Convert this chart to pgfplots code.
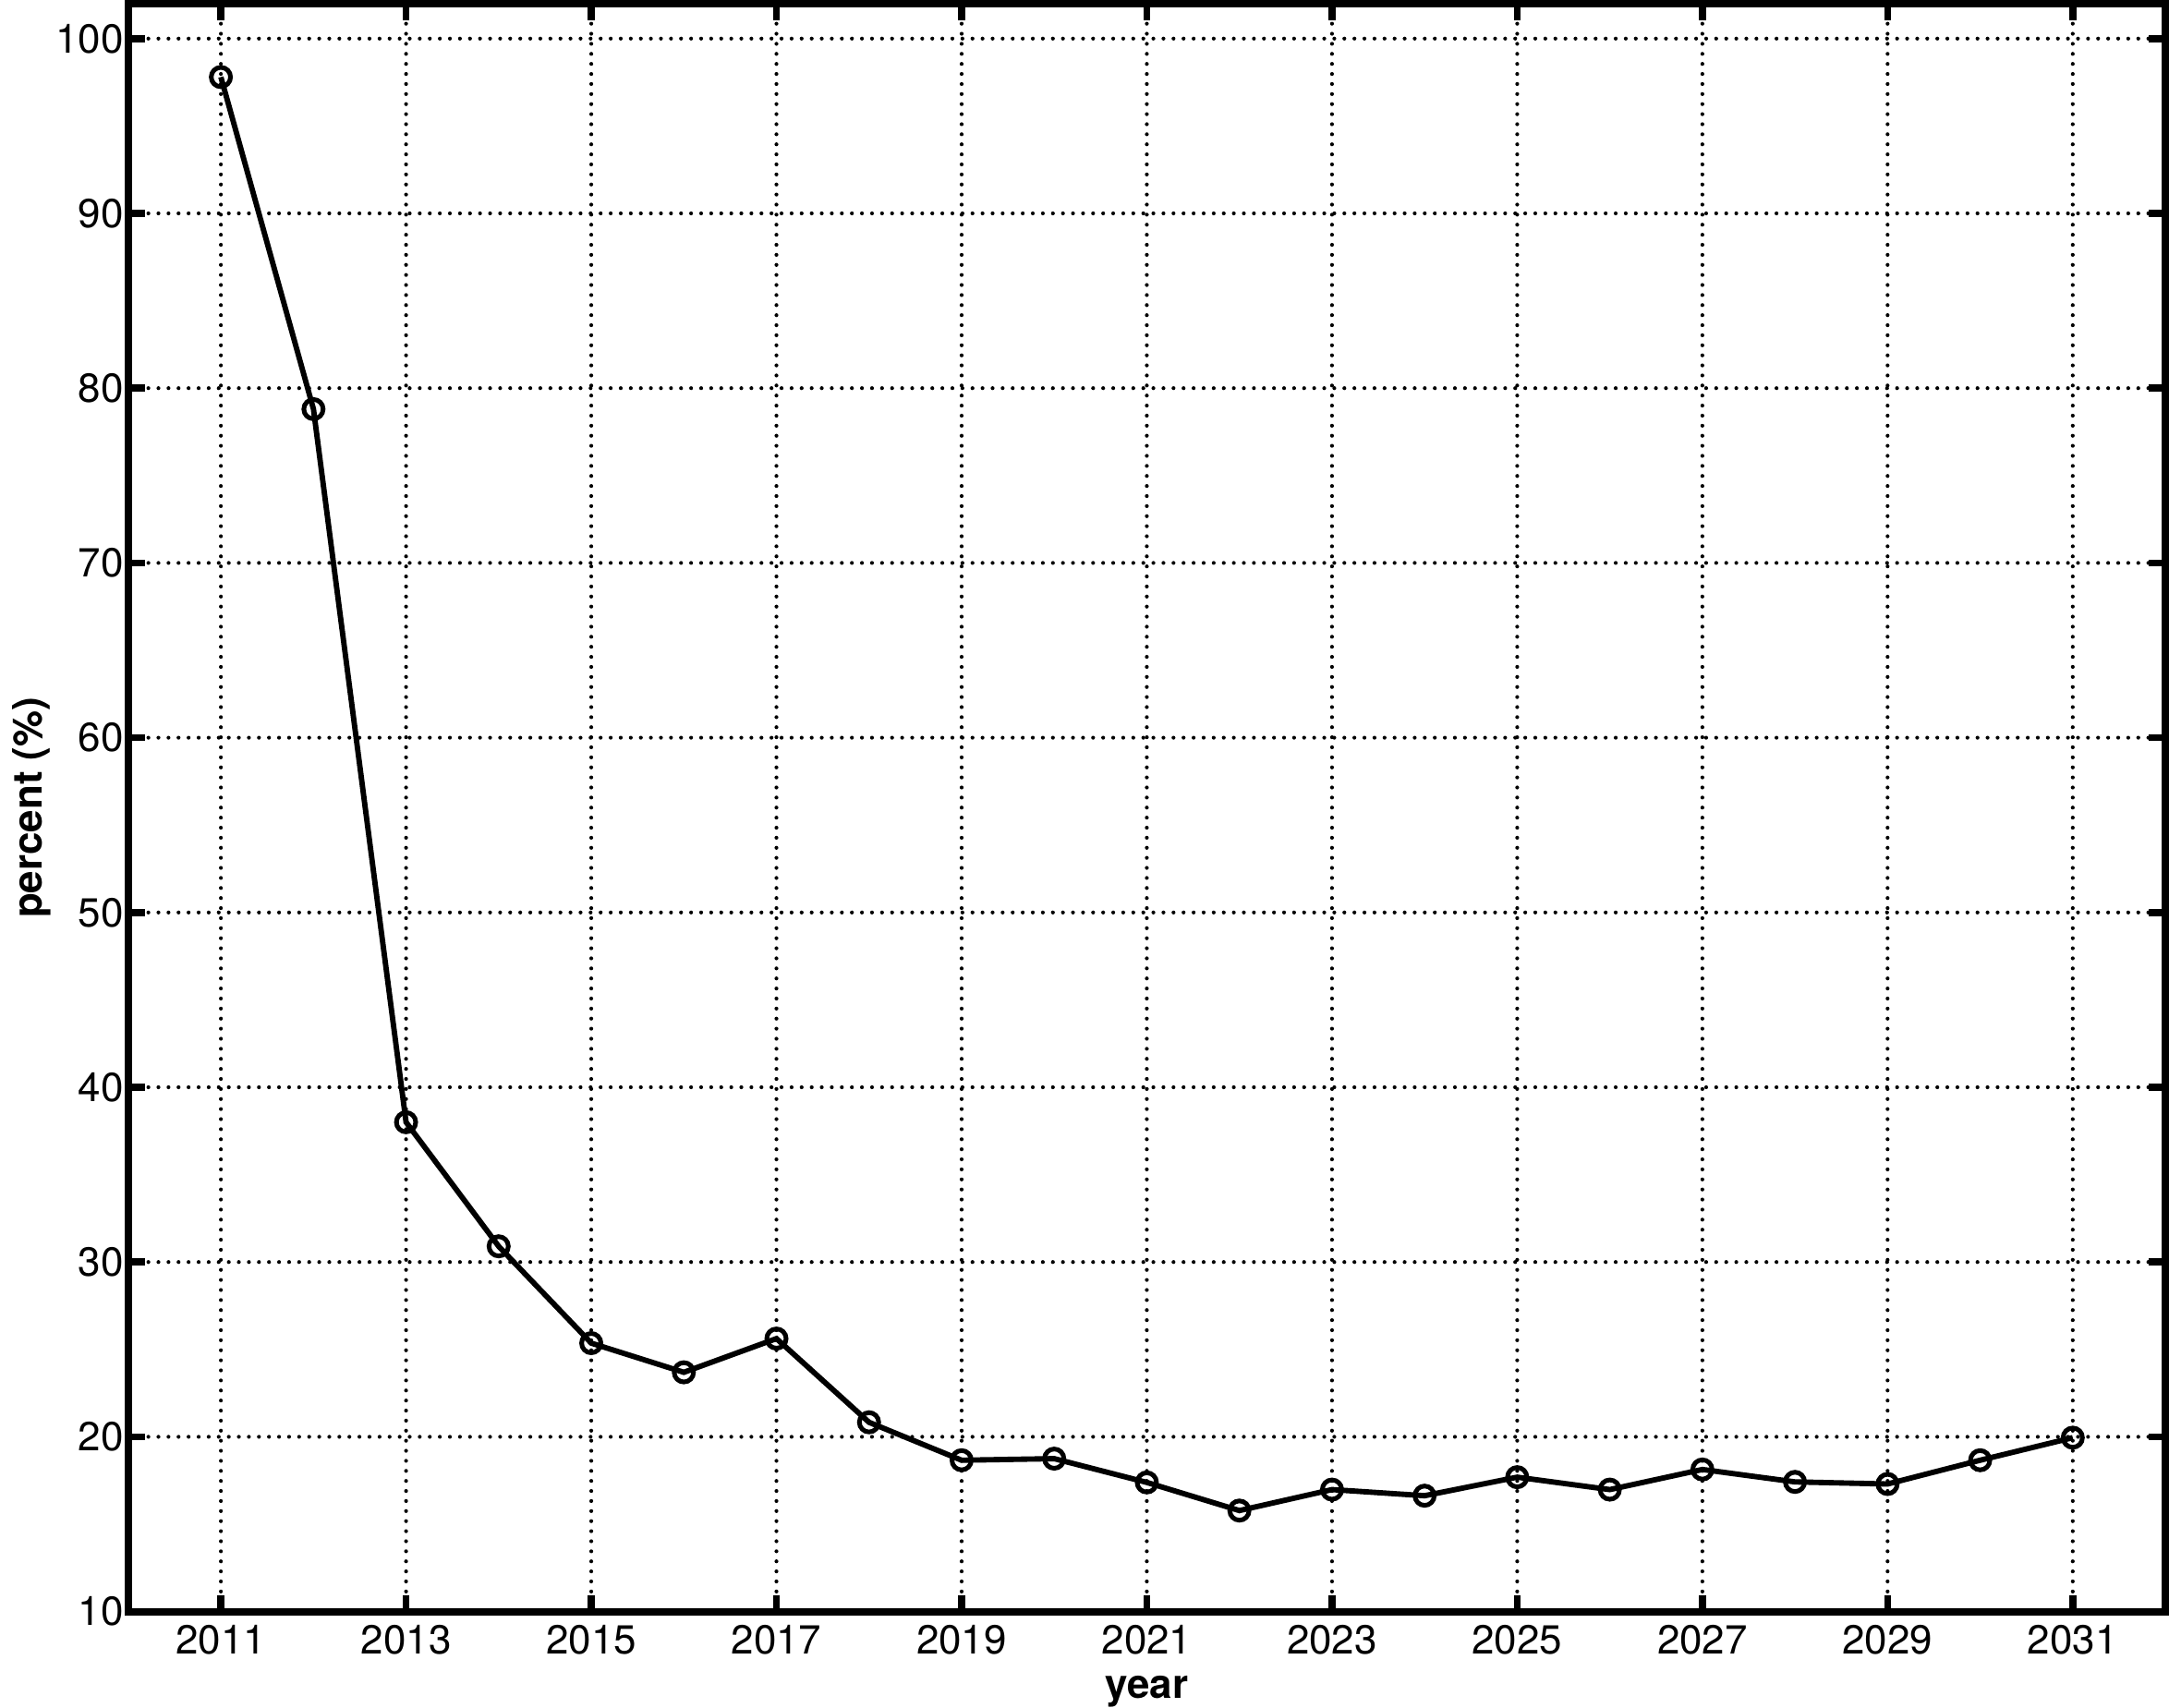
\documentclass[border=0pt]{standalone}
\usepackage{fontspec}
\setmainfont{TeX Gyre Heros}
\usepackage{pgfplots}
\pgfplotsset{compat=1.18}
\begin{document}
\begin{tikzpicture}
\begin{axis}[
  scale only axis,
  width=527pt, height=416pt,
  xmin=2010, xmax=2032, ymin=10, ymax=102,
  xtick={2011,2013,...,2031},
  ytick={10,20,...,100},
  /pgf/number format/1000 sep={},
  /pgf/number format/assume math mode=true,
  tick align=inside,
  tick pos=both,
  major tick length=4.3pt,
  every tick/.style={black, line width=1.8pt},
  axis line style={line width=1.9pt},
  grid=major,
  major grid style={black, line width=1.0pt, line cap=round, dash pattern=on 0pt off 2.6pt},
  tick label style={font=\fontsize{10.5}{12}\selectfont},
  yticklabel style={xshift=2.3pt},
  xlabel={\textbf{year}},
  ylabel={\textbf{percent (\%)}},
  label style={font=\fontsize{10.5}{12}\selectfont},
  xlabel style={inner sep=0pt, yshift=-2pt},
  ylabel style={yshift=-5.7pt},
]
\addplot[black, line width=1.4pt, mark=o, mark size=2.5pt, mark options={line width=1.2pt}] coordinates {
(2011,97.8) (2012,78.8) (2013,38.0) (2014,30.9) (2015,25.36) (2016,23.69) (2017,25.62)
(2018,20.83) (2019,18.66) (2020,18.75) (2021,17.39) (2022,15.78) (2023,16.98)
(2024,16.63) (2025,17.69) (2026,16.98) (2027,18.13) (2028,17.42) (2029,17.30)
(2030,18.66) (2031,19.95)
};
\end{axis}
\end{tikzpicture}
\end{document}
